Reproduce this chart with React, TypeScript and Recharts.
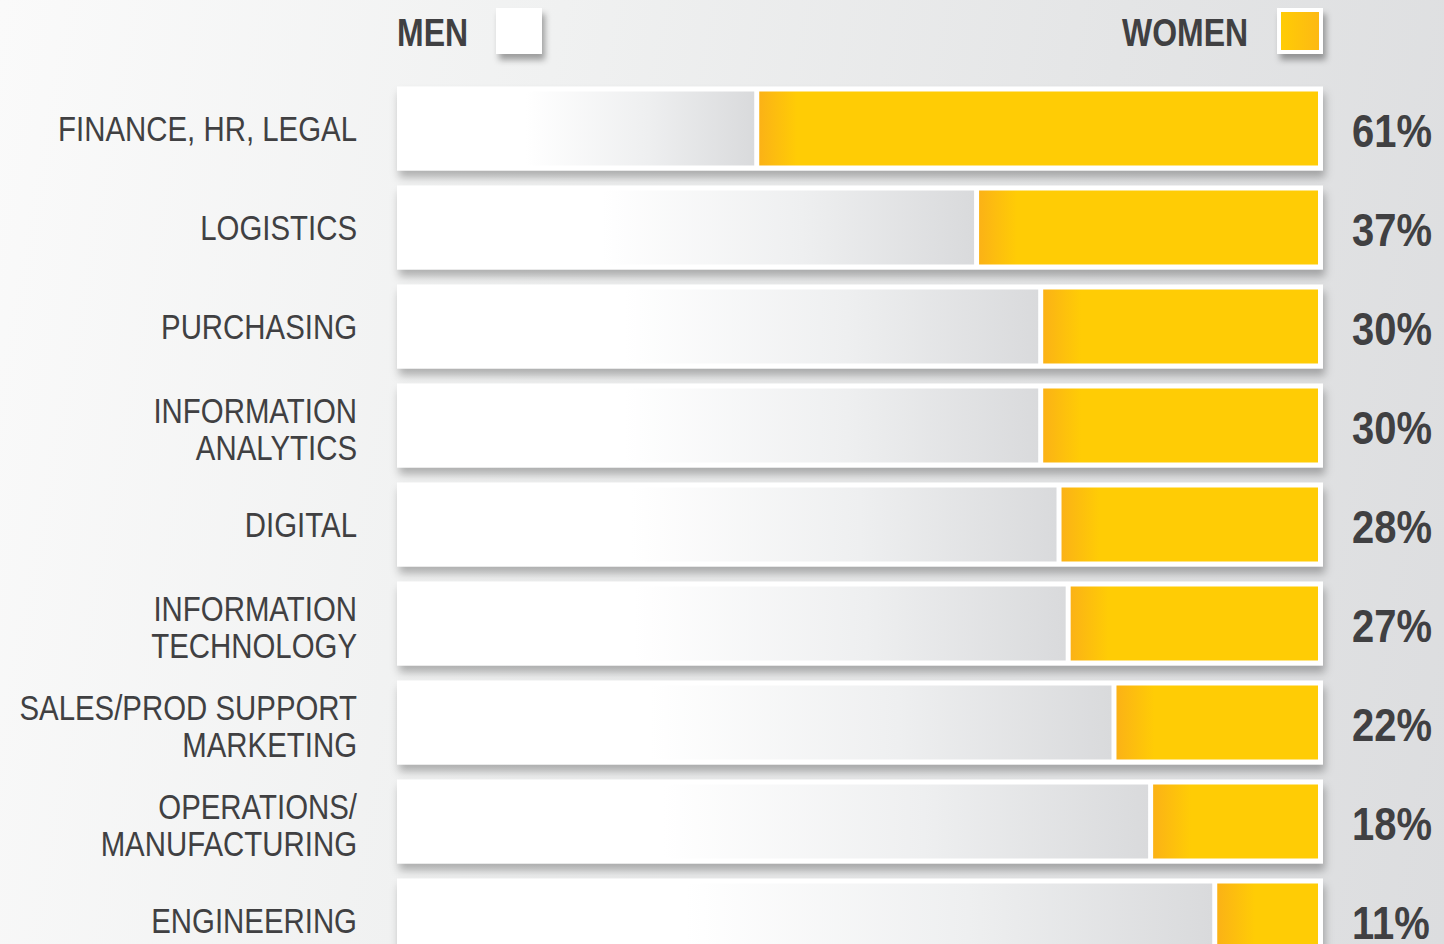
import React from "react";
import { BarChart, Bar, XAxis, YAxis, LabelList } from "recharts";

const categories = [
  "FINANCE, HR, LEGAL",
  "LOGISTICS",
  "PURCHASING",
  "INFORMATION\nANALYTICS",
  "DIGITAL",
  "INFORMATION\nTECHNOLOGY",
  "SALES/PROD SUPPORT\nMARKETING",
  "OPERATIONS/\nMANUFACTURING",
  "ENGINEERING",
];
const womenShare = [61, 37, 30, 30, 28, 27, 22, 18, 11];
const menShare = [39, 63, 70, 70, 72, 73, 78, 82, 89];
const legendItems = [
  { name: "MEN", key: "men" },
  { name: "WOMEN", key: "women" },
];

const data = categories.map((cat, i) => ({ cat, men: menShare[i], women: womenShare[i] }));

const FONT = '"Liberation Sans", Arial, sans-serif';
const SX = 0.82;
const SX_CAT = 0.84;
const SX_PCT = 0.85;
const TEXT = "#404042";

const CategoryTick = (props: any) => {
  const { x, y, payload } = props;
  const lines = String(payload.value).split("\n");
  const n = lines.length;
  const lh = 37;
  const off = n > 1 ? 5 : 1;
  return (
    <g transform={`translate(${x - 45},${y}) scale(${SX_CAT},1)`}>
      {lines.map((l, i) => (
        <text
          key={i}
          x={0}
          y={(i - (n - 1) / 2) * lh + off}
          textAnchor="end"
          dominantBaseline="central"
          fontFamily={FONT}
          fontSize={35}
          fill={TEXT}
        >
          {l}
        </text>
      ))}
    </g>
  );
};

const FrameBackground = (props: any) => {
  const { x, y, width, height } = props;
  return (
    <rect
      x={x - 5}
      y={y - 5}
      width={width + 10}
      height={height + 10}
      fill="#ffffff"
      filter="url(#barShadow)"
    />
  );
};

const MenShape = (props: any) => {
  const { x, y, width, height } = props;
  return <rect x={x} y={y} width={Math.max(width - 5, 0)} height={height} fill="url(#menGrad)" />;
};

const WomenShape = (props: any) => {
  const { x, y, width, height, index } = props;
  const id = `womenGrad${index}`;
  return (
    <g>
      <defs>
        <linearGradient id={id} gradientUnits="userSpaceOnUse" x1={x} y1={0} x2={x + 38} y2={0}>
          <stop offset="0" stopColor="#fbb216" />
          <stop offset="1" stopColor="#ffcc05" />
        </linearGradient>
      </defs>
      <rect x={x} y={y} width={width} height={height} fill={`url(#${id})`} />
    </g>
  );
};

const PctLabel = (props: any) => {
  const { x, y, width, height, value } = props;
  return (
    <g transform={`translate(${x + width + 34},${y + height / 2 + 2}) scale(${SX_PCT},1)`}>
      <text
        x={0}
        y={0}
        dominantBaseline="central"
        fontFamily={FONT}
        fontWeight="bold"
        fontSize={47}
        fill={TEXT}
      >
        {value}%
      </text>
    </g>
  );
};

const legendPos = [
  { textX: 397, boxX: 496 },
  { textX: 1122, boxX: 1277 },
];

const LegendSvg = () => (
  <svg width={1444} height={80} style={{ position: "absolute", left: 0, top: 0 }}>
    <defs>
      <filter id="boxShadow" x="-30%" y="-30%" width="170%" height="170%">
        <feDropShadow dx="3" dy="6" stdDeviation="3" floodColor="#000" floodOpacity="0.35" />
      </filter>
      <linearGradient id="legendWomen" x1="0" y1="0" x2="1" y2="0">
        <stop offset="0" stopColor="#ffcc05" />
        <stop offset="1" stopColor="#fdb913" />
      </linearGradient>
    </defs>
    {legendItems.map((item, i) => (
      <g key={item.key}>
        <g transform={`translate(${legendPos[i].textX},33) scale(${SX},1)`}>
          <text x={0} y={0} dominantBaseline="central" fontFamily={FONT} fontWeight="bold" fontSize={39} fill={TEXT}>
            {item.name}
          </text>
        </g>
        <rect x={legendPos[i].boxX} y={8} width={46} height={46} fill="#ffffff" filter="url(#boxShadow)" />
        {item.key === "women" && (
          <rect x={legendPos[i].boxX + 4} y={12} width={38} height={38} fill="url(#legendWomen)" />
        )}
      </g>
    ))}
  </svg>
);

export default function App() {
  return (
    <div
      style={{
        position: "absolute",
        left: 0,
        top: 0,
        width: 1444,
        height: 944,
        overflow: "hidden",
        background: "linear-gradient(100deg, #fafafa 0%, #f0f1f1 35%, #e4e5e6 70%, #dcdddf 100%)",
      }}
    >
      <BarChart
        width={1444}
        height={1000}
        data={data}
        layout="vertical"
        margin={{ top: 78.5, right: 126, bottom: 30.5, left: 0 }}
        barSize={74}
        style={{ position: "absolute", left: 0, top: 0 }}
      >
        <defs>
          <filter id="barShadow" x="-5%" y="-30%" width="110%" height="180%">
            <feDropShadow dx="2" dy="7" stdDeviation="4" floodColor="#000" floodOpacity="0.28" />
          </filter>
          <linearGradient id="menGrad" x1="0" y1="0" x2="1" y2="0">
            <stop offset="0" stopColor="#ffffff" />
            <stop offset="0.35" stopColor="#ffffff" />
            <stop offset="0.7" stopColor="#eeeff0" />
            <stop offset="1" stopColor="#d9dadc" />
          </linearGradient>
        </defs>
        <XAxis type="number" domain={[0, 100]} hide />
        <YAxis
          type="category"
          dataKey="cat"
          width={402}
          axisLine={false}
          tickLine={false}
          tickSize={0}
          tickMargin={0}
          interval={0}
          tick={<CategoryTick />}
        />
        <Bar
          dataKey="men"
          stackId="a"
          isAnimationActive={false}
          background={(p: any) => <FrameBackground key={`bg${p.index}`} {...p} />}
          shape={(p: any) => <MenShape {...p} />}
        />
        <Bar dataKey="women" stackId="a" isAnimationActive={false} shape={(p: any) => <WomenShape {...p} />}>
          <LabelList dataKey="women" content={(p: any) => <PctLabel {...p} />} />
        </Bar>
      </BarChart>
      <LegendSvg />
    </div>
  );
}
